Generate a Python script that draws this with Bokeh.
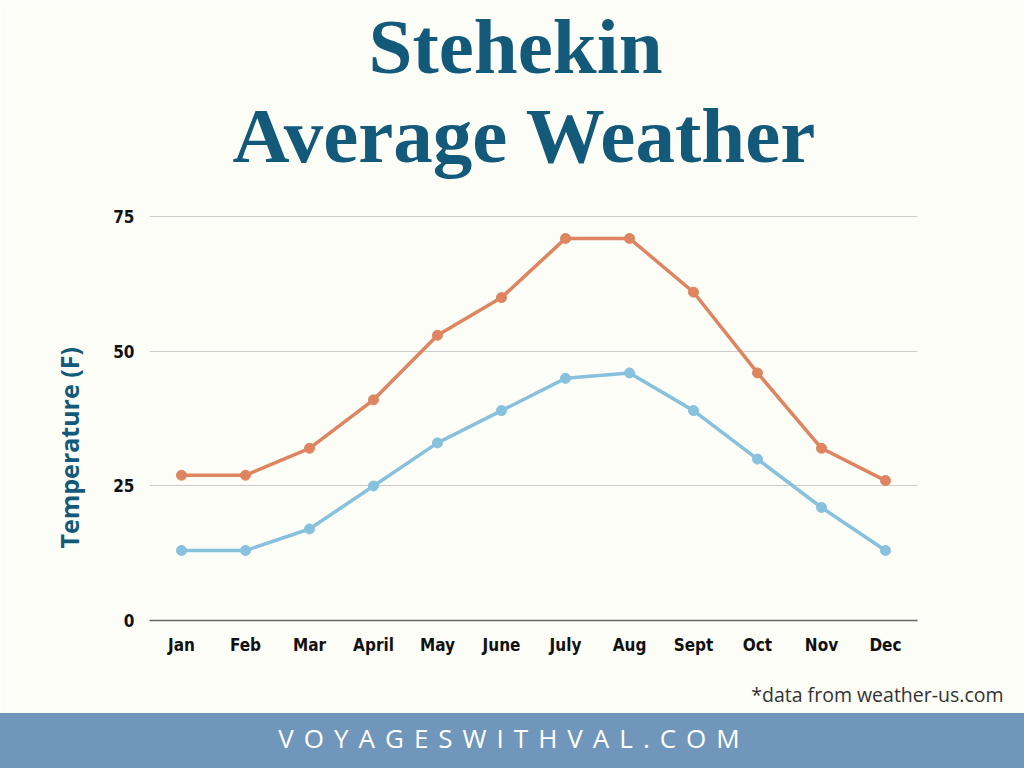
from bokeh.plotting import figure
from bokeh.models import FactorRange, Range1d, Div, FixedTicker, Title
from bokeh.layouts import column
from bokeh.embed import file_html
from bokeh.resources import INLINE

# ---- data ----
months = ["Jan", "Feb", "Mar", "April", "May", "June", "July", "Aug", "Sept", "Oct", "Nov", "Dec"]
highs = [27, 27, 32, 41, 53, 60, 71, 71, 61, 46, 32, 26]
lows = [13, 13, 17, 25, 33, 39, 45, 46, 39, 30, 21, 13]
y_ticks = [0, 25, 50, 75]
title_lines = ["Stehekin", "Average Weather"]
y_label = "Temperature (F)"
footnote = "*data from weather-us.com"
banner = "VOYAGESWITHVAL.COM"

BG = "#FCFDF7"
ORANGE = "#DF8460"
BLUE = "#88C1DE"
TITLE_C = "#13597A"
BAND = "#7097BB"
TICK_FONT = "'DejaVu Sans Condensed', 'DejaVu Sans', sans-serif"

p = figure(
    x_range=FactorRange(*months), y_range=Range1d(0, 76),
    frame_width=768, frame_height=409,
    min_border_left=149, min_border_right=107, min_border_top=211, min_border_bottom=93,
    output_backend="svg", toolbar_location=None,
    background_fill_color=BG, border_fill_color=BG, outline_line_color=None,
)

p.line(months, highs, line_width=3.5, color=ORANGE)
p.scatter(months, highs, size=10, color=ORANGE)
p.line(months, lows, line_width=3.5, color=BLUE)
p.scatter(months, lows, size=10, color=BLUE)

p.xgrid.visible = False
p.ygrid.ticker = FixedTicker(ticks=y_ticks[1:])
p.ygrid.grid_line_color = "#CCCCCC"
p.ygrid.grid_line_width = 1

p.yaxis.ticker = FixedTicker(ticks=y_ticks)
p.yaxis.axis_line_color = None
p.yaxis.major_tick_line_color = None
p.yaxis.minor_tick_line_color = None
p.yaxis.major_label_standoff = 9
for ax in (p.xaxis[0], p.yaxis[0]):
    ax.major_label_text_font = TICK_FONT
    ax.major_label_text_font_style = "bold"
    ax.major_label_text_font_size = "17px"
    ax.major_label_text_color = "#111111"

p.xaxis.axis_line_color = "#666666"
p.xaxis.axis_line_width = 1.5
p.xaxis.major_tick_line_color = None
p.xaxis.minor_tick_line_color = None
p.xaxis.major_label_standoff = 8


def spacer(h):
    return Title(text=" ", text_font_size="1px", standoff=h)


# ---- titles above (first added sits closest to the frame) ----
p.add_layout(spacer(30), "above")
p.add_layout(Title(text=title_lines[1], align="left", offset=83, text_font="Liberation Serif",
                   text_font_style="bold", text_font_size="79px", text_color=TITLE_C,
                   standoff=0), "above")
p.add_layout(Title(text=title_lines[0], align="left", offset=219, text_font="Liberation Serif",
                   text_font_style="bold", text_font_size="79px", text_color=TITLE_C,
                   standoff=0), "above")

# ---- y label on the left ----
p.add_layout(Title(text=y_label, align="left", offset=72, text_font="Open Sans",
                   text_font_style="bold", text_font_size="25px", text_color=TITLE_C,
                   standoff=50), "left")

# ---- footnote below ----
p.add_layout(spacer(18), "below")
p.add_layout(Title(text=footnote, align="right", offset=-86, text_font="Open Sans",
                   text_font_style="normal", text_font_size="19.5px", text_color="#333333",
                   standoff=0), "below")

band = Div(
    text=('<div style="width:1024px;height:55px;background:%s;color:#ffffff;'
          'font-family:\'Open Sans\';font-size:26px;letter-spacing:10px;padding-left:4px;'
          'box-sizing:border-box;text-align:center;line-height:50px;">%s</div>') % (BAND, banner),
    width=1024, height=55, margin=(0, 0, 0, 0),
)

layout = column(p, band, spacing=0)
open("out.html", "w").write(file_html(layout, INLINE))
